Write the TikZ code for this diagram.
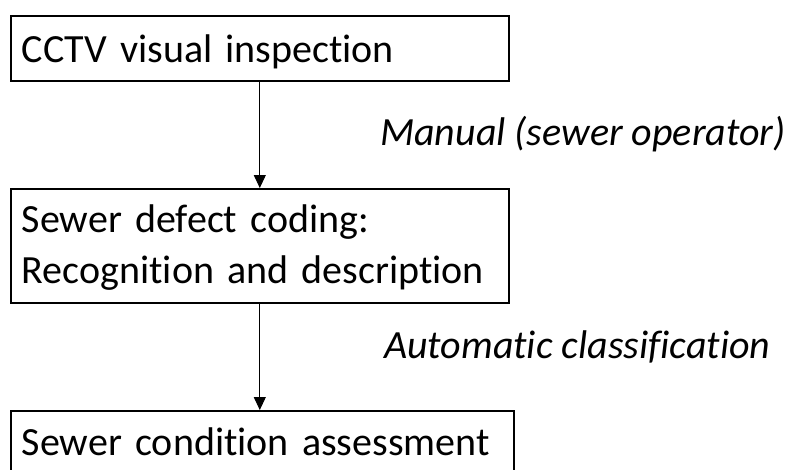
\documentclass[tikz,border=0pt]{standalone}
\usepackage{fontspec}
\setmainfont{Carlito}[Ligatures={NoCommon,NoContextual}]
\usetikzlibrary{arrows.meta}
\hyphenpenalty=10000
\exhyphenpenalty=10000
\begin{document}
\begin{tikzpicture}[x=1pt,y=-1pt,
  box/.style={draw, line width=1.6pt, anchor=north west, minimum width=498pt,
    text width=476pt, inner xsep=11pt, inner ysep=0pt, align=left,
    font=\fontsize{40}{51}\selectfont},
  lab/.style={anchor=base west, inner sep=0pt, font=\fontsize{40}{51}\selectfont\itshape},
  arr/.style={line width=1pt, -{Triangle[width=12pt,length=13pt]}}]
\useasboundingbox (0,0) rectangle (789,469);
\node[box, minimum height=65pt, text height=32pt, text depth=3pt] (b1) at (10,15) {CCTV visual inspection};
\node[box, minimum height=114pt, text height=32pt, text depth=58pt] (b2) at (10,188) {Sewer defect coding:\\Recognition and description};
\node[box, minimum width=503pt, text width=481pt, minimum height=65pt, text height=30pt, text depth=5pt] (b3) at (10,410) {Sewer condition assessment};
\node[lab] (l1) at (380,145) {Manual (sewer operator)};
\node[lab] (l2) at (384,358) {Automatic classification};
\draw[arr] (b1.south) -- (b2.north);
\draw[arr] (b2.south) -- (b2.south |- b3.north);
\end{tikzpicture}
\end{document}
